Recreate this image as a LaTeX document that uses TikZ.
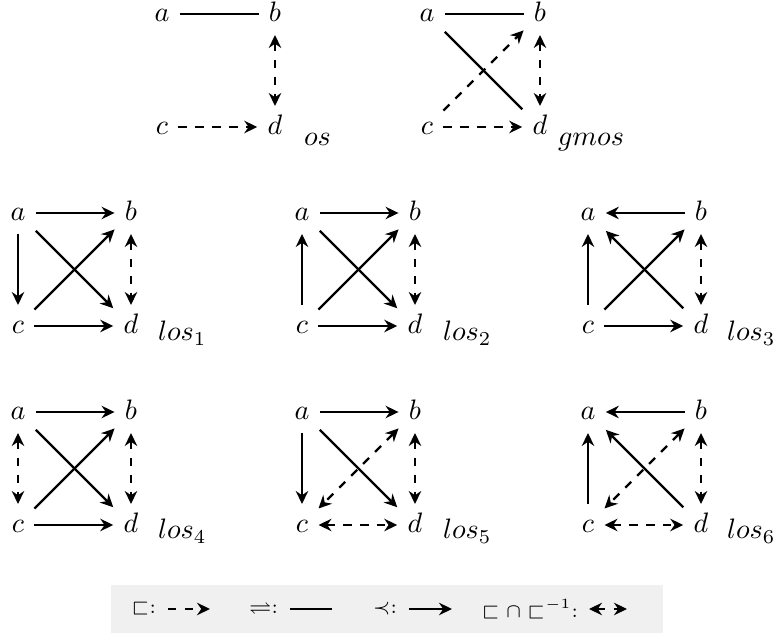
\documentclass[tikz,border=0pt]{standalone}
\usepackage{amsmath,amssymb}
\usetikzlibrary{arrows.meta}

\begin{document}
\begin{tikzpicture}[x=0.0125cm,y=-0.0125cm,thick,
  >={Stealth[length=4.6pt,width=4.4pt,inset=1.5pt]},
  v/.style={inner sep=3.3pt,text height=1.5ex,text depth=0.25ex},
  lbl/.style={anchor=base west,inner sep=0pt},
  key/.style={anchor=east,inner sep=0pt,font=\scriptsize}]
  \useasboundingbox (0,0) rectangle (774,636);
  % the eight squares: a b / c d
  \foreach \n/\x/\y in {os/162/14,gm/427/14,
                        l1/18/213,l2/302/213,l3/588/213,
                        l4/18/412,l5/302/412,l6/588/412} {
    \node[v] (\n a) at (\x,\y) {$a$};
    \node[v] (\n b) at (\x+113,\y) {$b$};
    \node[v] (\n c) at (\x,\y+113) {$c$};
    \node[v] (\n d) at (\x+113,\y+113) {$d$};
  }
  \node[lbl] (os) at (303,146) {$os$};
  \node[lbl] (gmos) at (557,146) {$gmos$};
  \node[lbl] (los1) at (157,341) {$los_1$};
  \node[lbl] (los2) at (442,341) {$los_2$};
  \node[lbl] (los3) at (726,341) {$los_3$};
  \node[lbl] (los4) at (157,539) {$los_4$};
  \node[lbl] (los5) at (442,539) {$los_5$};
  \node[lbl] (los6) at (726,539) {$los_6$};
  % os
  \draw (osa) -- (osb);
  \draw[dashed,<->] (osb) -- (osd);
  \draw[dashed,->] (osc) -- (osd);
  % gmos
  \draw (gma) -- (gmb);
  \draw[dashed,->] (gmc) -- (gmb);
  \draw (gma) -- (gmd);
  \draw[dashed,<->] (gmb) -- (gmd);
  \draw[dashed,->] (gmc) -- (gmd);
  % los_1
  \draw[->] (l1a) -- (l1b);
  \draw[->] (l1a) -- (l1c);
  \draw[->] (l1a) -- (l1d);
  \draw[->] (l1c) -- (l1b);
  \draw[->] (l1c) -- (l1d);
  \draw[dashed,<->] (l1b) -- (l1d);
  % los_2
  \draw[->] (l2a) -- (l2b);
  \draw[->] (l2c) -- (l2a);
  \draw[->] (l2a) -- (l2d);
  \draw[->] (l2c) -- (l2b);
  \draw[->] (l2c) -- (l2d);
  \draw[dashed,<->] (l2b) -- (l2d);
  % los_3
  \draw[->] (l3b) -- (l3a);
  \draw[->] (l3c) -- (l3a);
  \draw[->] (l3d) -- (l3a);
  \draw[->] (l3c) -- (l3b);
  \draw[->] (l3c) -- (l3d);
  \draw[dashed,<->] (l3b) -- (l3d);
  % los_4
  \draw[->] (l4a) -- (l4b);
  \draw[dashed,<->] (l4a) -- (l4c);
  \draw[->] (l4a) -- (l4d);
  \draw[->] (l4c) -- (l4b);
  \draw[->] (l4c) -- (l4d);
  \draw[dashed,<->] (l4b) -- (l4d);
  % los_5
  \draw[->] (l5a) -- (l5b);
  \draw[->] (l5a) -- (l5c);
  \draw[->] (l5a) -- (l5d);
  \draw[dashed,<->] (l5b) -- (l5c);
  \draw[dashed,<->] (l5c) -- (l5d);
  \draw[dashed,<->] (l5b) -- (l5d);
  % los_6
  \draw[->] (l6b) -- (l6a);
  \draw[->] (l6c) -- (l6a);
  \draw[->] (l6d) -- (l6a);
  \draw[dashed,<->] (l6b) -- (l6c);
  \draw[dashed,<->] (l6c) -- (l6d);
  \draw[dashed,<->] (l6b) -- (l6d);
  % key
  \fill[black!6] (111,585) rectangle (663,633);
  \node[key] (k1) at (157,609) {$\sqsubset$:};
  \coordinate (k1s) at (168,609);
  \coordinate (k1e) at (210,609);
  \draw[dashed,->] (k1s) -- (k1e);
  \node[key] (k2) at (279,609) {$\rightleftharpoons$:};
  \coordinate (k2s) at (290,609);
  \coordinate (k2e) at (332,609);
  \draw (k2s) -- (k2e);
  \node[key] (k3) at (398,609) {$\prec$:};
  \coordinate (k3s) at (409,609);
  \coordinate (k3e) at (452,609);
  \draw[->] (k3s) -- (k3e);
  \node[key] (k4) at (579,609) {$\sqsubset\cap\sqsubset^{-1}$:};
  \coordinate (k4s) at (589,609);
  \coordinate (k4e) at (627,609);
  \draw[dashed,<->] (k4s) -- (k4e);
\end{tikzpicture}
\end{document}
